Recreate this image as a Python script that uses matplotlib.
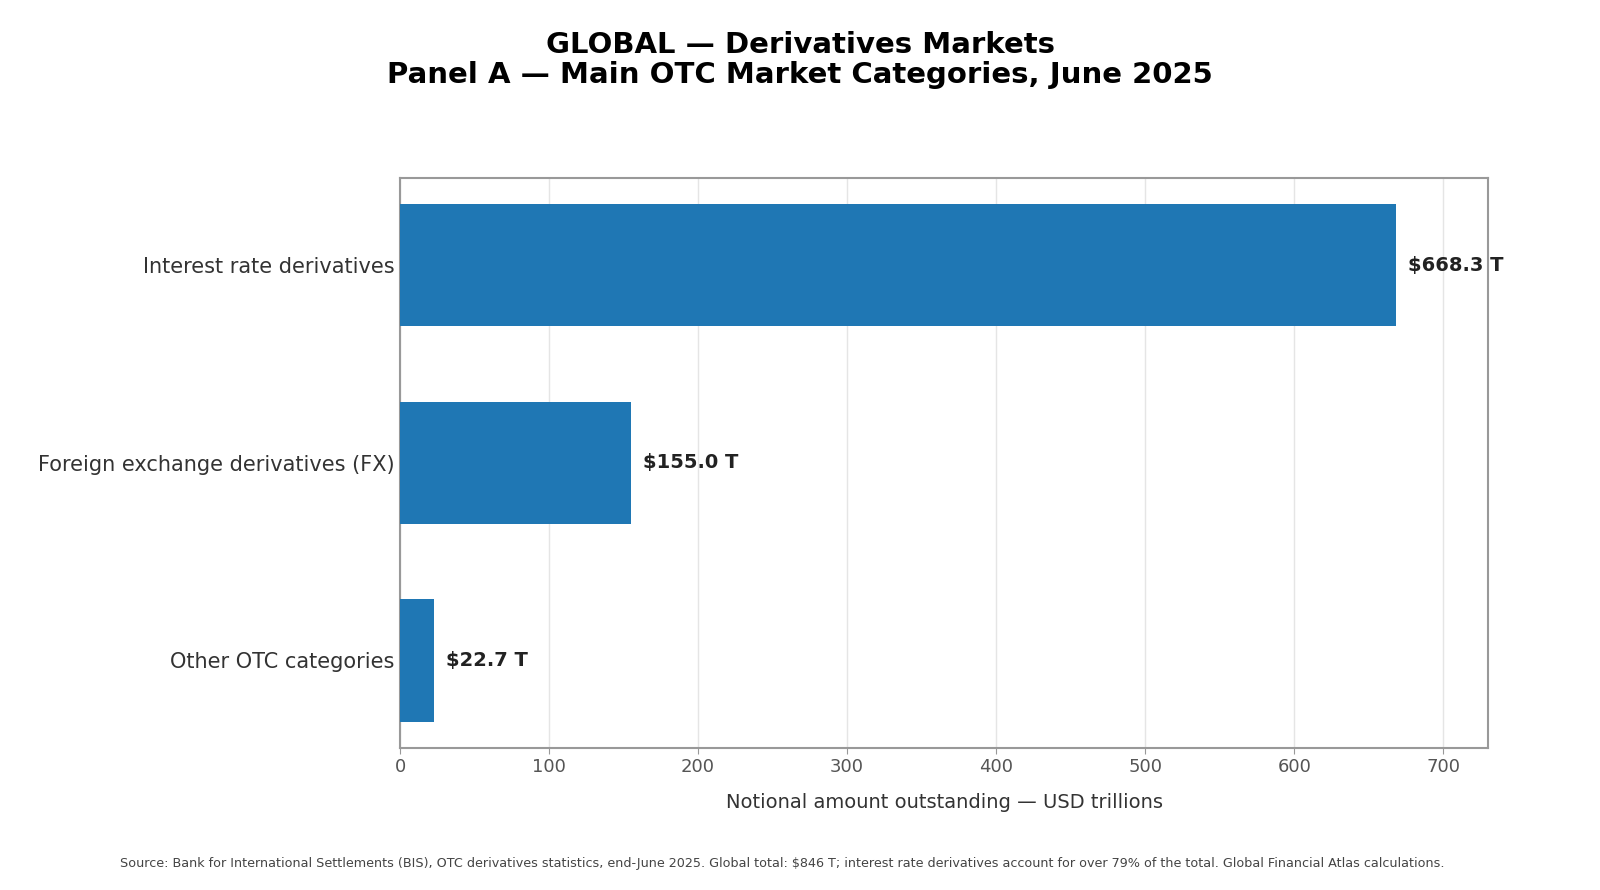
import matplotlib
matplotlib.use("Agg")
import matplotlib.pyplot as plt
import numpy as np

categories = ["Interest rate derivatives",
              "Foreign exchange derivatives (FX)",
              "Other OTC categories"]
values = [668.3, 155.0, 22.7]
value_labels = ["$668.3 T", "$155.0 T", "$22.7 T"]

title = "GLOBAL \u2014 Derivatives Markets\nPanel A \u2014 Main OTC Market Categories, June 2025"
xlabel = "Notional amount outstanding \u2014 USD trillions"
source = ("Source: Bank for International Settlements (BIS), OTC derivatives statistics, end-June 2025. "
          "Global total: $846 T; interest rate derivatives account for over 79% of the total. "
          "Global Financial Atlas calculations.")

fig = plt.figure(figsize=(16, 8.9), dpi=100)
ax = fig.add_axes([0.25, 0.16, 0.68, 0.64])

y = np.arange(len(categories))
ax.barh(y, values, height=0.62, color="#1f77b4", zorder=3)
ax.invert_yaxis()
ax.set_yticks(y)
ax.set_yticklabels(categories, fontsize=15, color="#333333")
ax.set_xlim(0, 730)
ax.set_xticks(range(0, 701, 100))
ax.tick_params(axis="x", labelsize=13, colors="#555555", length=4, color="#999999")
ax.tick_params(axis="y", length=0, pad=4)
ax.xaxis.grid(True, color="#e5e5e5", linewidth=1, zorder=0)
for sp in ax.spines.values():
    sp.set_color("#999999")
    sp.set_linewidth(1.5)

ax.set_xlabel(xlabel, fontsize=14, color="#333333", labelpad=12)

for i, (v, lab) in enumerate(zip(values, value_labels)):
    ax.text(v + 8, i, lab, va="center", ha="left", fontsize=14,
            fontweight="bold", color="#222222")

fig.suptitle(title, fontsize=21, fontweight="bold", y=0.965, linespacing=1.1)
fig.text(0.489, 0.030, source, ha="center", va="center", fontsize=9.2, color="#444444")

fig.savefig("out.png", dpi=100)
